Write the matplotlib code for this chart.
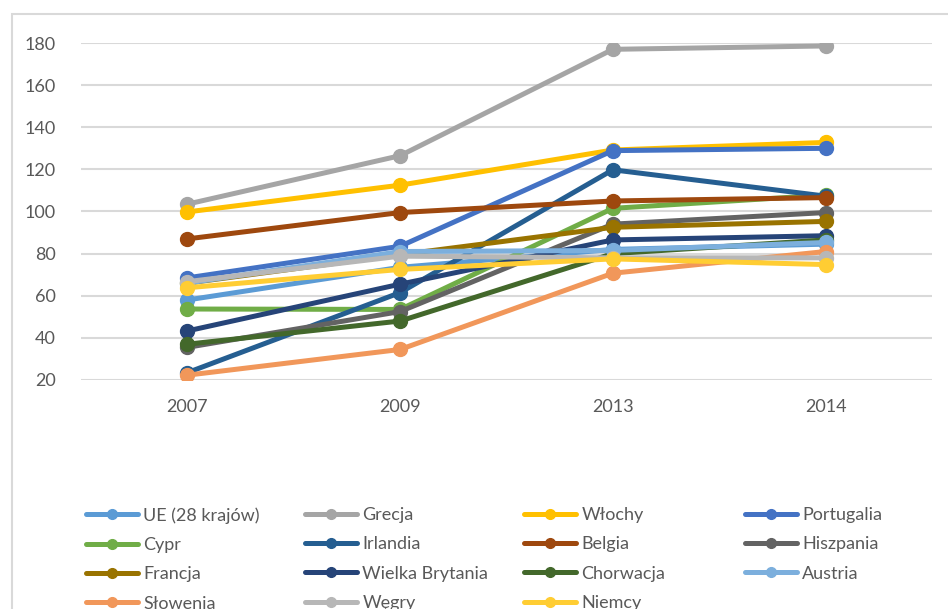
import matplotlib
matplotlib.use("Agg")
import matplotlib.pyplot as plt
from matplotlib.patches import Rectangle

years = ["2007", "2009", "2013", "2014"]
series_names = ["UE (28 krajów)", "Grecja", "Włochy", "Portugalia",
                "Cypr", "Irlandia", "Belgia", "Hiszpania",
                "Francja", "Wielka Brytania", "Chorwacja", "Austria",
                "Słowenia", "Węgry", "Niemcy"]
ue = [58.0, 73.5, 82.0, 84.5]
grecja = [103.5, 126.5, 177.0, 178.6]
wlochy = [99.8, 112.5, 129.2, 132.8]
portugalia = [68.5, 83.5, 128.9, 130.0]
cypr = [53.7, 53.5, 101.5, 107.8]
irlandia = [23.5, 61.5, 119.8, 107.3]
belgia = [87.0, 99.5, 105.0, 106.6]
hiszpania = [35.5, 52.5, 94.0, 99.5]
francja = [66.0, 79.5, 92.5, 95.3]
wielka_brytania = [43.3, 65.5, 86.5, 88.5]
chorwacja = [37.0, 48.0, 80.0, 86.5]
austria = [66.0, 81.0, 81.5, 85.3]
slowenia = [22.3, 34.5, 70.7, 81.0]
wegry = [66.7, 78.8, 78.0, 78.0]
niemcy = [63.8, 72.5, 77.5, 74.8]
all_values = [ue, grecja, wlochy, portugalia, cypr, irlandia, belgia, hiszpania,
              francja, wielka_brytania, chorwacja, austria, slowenia, wegry, niemcy]
colors = ["#5B9BD5", "#A5A5A5", "#FFC000", "#4472C4",
          "#70AD47", "#255E91", "#9E480E", "#636363",
          "#997300", "#264478", "#43682B", "#7CAFDD",
          "#F1975A", "#B7B7B7", "#FFCD33"]
yticks = [20, 40, 60, 80, 100, 120, 140, 160, 180]

plt.rcParams['font.family'] = ['Lato', 'DejaVu Sans']

W, H = 948, 609
fig = plt.figure(figsize=(W / 100, H / 100), dpi=100)
fig.patch.set_facecolor("white")

# chart frame (cropped on right and bottom)
fig.patches.append(Rectangle((12 / W, -0.05), 1.1, 1 - 14 / H + 0.05,
                             transform=fig.transFigure, fill=False,
                             edgecolor="#D9D9D9", linewidth=1.5))

ax = fig.add_axes([81 / W, 1 - 380 / H, (932 - 81) / W, (380 - 43) / H])
x = list(range(len(years)))
handles = []
for name, vals, c in zip(series_names, all_values, colors):
    ln, = ax.plot(x, vals, color=c, linewidth=3.6, marker="o", markersize=10,
                  label=name, solid_capstyle="round", zorder=3)
    handles.append(ln)

ax.set_xlim(-0.5, len(years) - 0.5)
ax.set_ylim(20, 180)
ax.set_yticks(yticks)
ax.set_xticks(x)
ax.set_xticklabels(years)
ax.grid(axis="y", color="#D9D9D9", linewidth=1.5, zorder=0)
ax.set_axisbelow(True)
for s in ax.spines.values():
    s.set_visible(False)
ax.tick_params(axis="both", length=0, labelsize=13, colors="#595959")
ax.tick_params(axis="y", pad=18)
ax.tick_params(axis="x", pad=14)

# legend: row-major order, one legend per column
ncol = 4
col_x = [86, 305, 524, 745]
for ci in range(ncol):
    hs = handles[ci::ncol]
    labs = series_names[ci::ncol]
    leg = fig.legend(hs, labs, loc="upper left",
                     bbox_to_anchor=(col_x[ci] / W, 1 - 507 / H),
                     frameon=False, fontsize=13, handlelength=2.9,
                     handletextpad=0.28, labelspacing=0.74,
                     borderaxespad=0, borderpad=0)
    for t in leg.get_texts():
        t.set_color("#595959")
    for h in leg.get_lines():
        h.set_markersize(7)

fig.savefig("out.png", dpi=100)
